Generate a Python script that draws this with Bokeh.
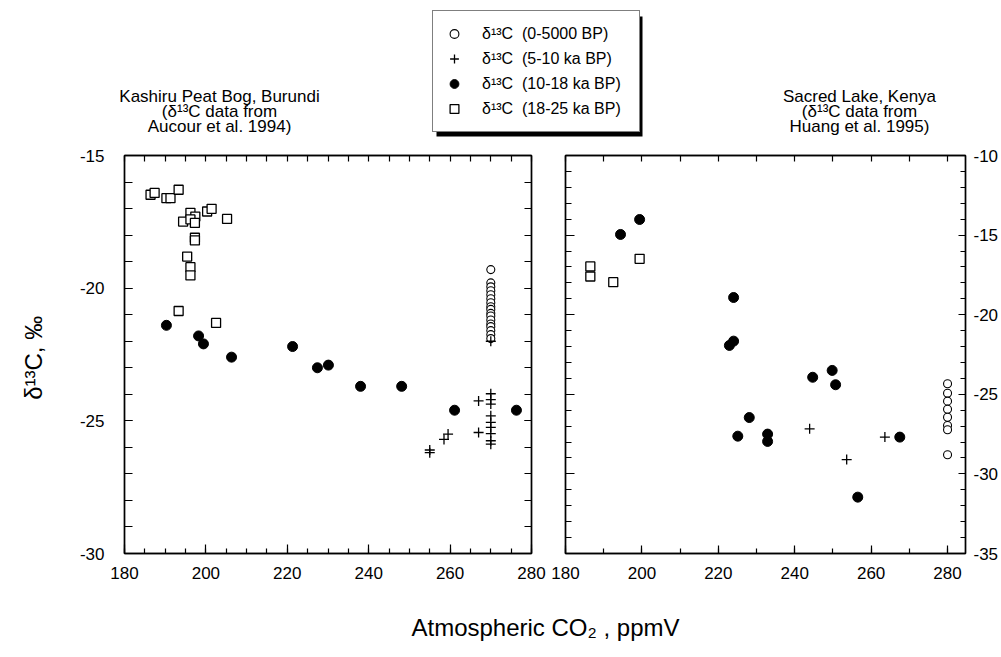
from bokeh.plotting import figure
from bokeh.models import (Range1d, LinearAxis, SingleIntervalTicker, Legend, LegendItem,
                          PrintfTickFormatter)
from bokeh.layouts import column, row
from bokeh.embed import file_html
from bokeh.resources import INLINE
from bokeh.core.properties import value

FONT = "Liberation Sans"
NAN = float("nan")

# ---------------- data: Kashiru Peat Bog, Burundi ----------------
kas_recent_x = [270] * 17
kas_recent_y = [-19.3, -19.8, -19.95, -20.1, -20.25, -20.4, -20.55, -20.7, -20.8,
                -20.95, -21.05, -21.2, -21.35, -21.45, -21.6, -21.75, -21.9]

kas_5_10_x = [270, 270, 270, 270, 270, 270, 270, 270, 270, 270,
              267, 267, 259.5, 258.5, 255, 255]
kas_5_10_y = [-22.0, -23.98, -24.2, -24.37, -24.81, -25.06, -25.25, -25.48, -25.75, -25.88,
              -24.25, -25.44, -25.5, -25.7, -26.1, -26.2]

kas_10_18_x = [190.3, 198.2, 199.4, 206.3, 221.3, 227.4, 230.1, 238.0, 248.1, 261.1, 276.3]
kas_10_18_y = [-21.4, -21.8, -22.1, -22.6, -22.2, -23.0, -22.9, -23.7, -23.7, -24.6, -24.6]

kas_18_25_x = [186.4, 187.4, 190.3, 191.3, 193.3, 196.2, 197.4, 194.4, 196.2, 197.3,
               200.3, 201.4, 205.2, 197.3, 197.3, 195.4, 196.2, 196.2, 193.3, 202.5]
kas_18_25_y = [-16.48, -16.41, -16.61, -16.61, -16.29, -17.16, -17.30, -17.49, -17.41, -17.54,
               -17.11, -17.01, -17.39, -18.10, -18.20, -18.81, -19.21, -19.52, -20.86, -21.31]

# ---------------- data: Sacred Lake, Kenya ----------------
sac_recent_x = [280] * 8
sac_recent_y = [-24.34, -24.93, -25.43, -25.94, -26.44, -26.96, -27.23, -28.80]

sac_5_10_x = [243.9, 263.6, 253.6]
sac_5_10_y = [-27.17, -27.69, -29.1]

sac_10_18_x = [194.4, 199.4, 224.0, 224.0, 222.9, 244.7, 249.8, 250.7,
               228.1, 225.1, 232.9, 232.9, 267.5, 256.5]
sac_10_18_y = [-14.96, -14.02, -18.92, -21.66, -21.93, -23.93, -23.5, -24.4,
               -26.46, -27.63, -27.5, -27.96, -27.69, -31.46]

sac_18_25_x = [186.5, 186.5, 192.5, 199.4]
sac_18_25_y = [-16.97, -17.6, -17.96, -16.49]

legend_labels = ["δ¹³C  (0-5000 BP)", "δ¹³C  (5-10 ka BP)",
                 "δ¹³C  (10-18 ka BP)", "δ¹³C  (18-25 ka BP)"]
left_title = ["Kashiru Peat Bog, Burundi", "(δ¹³C data from", "Aucour et al. 1994)"]
right_title = ["Sacred Lake, Kenya", "(δ¹³C data from", "Huang et al. 1995)"]
x_title = "Atmospheric CO₂ , ppmV"
y_title = "δ¹³C,  ‰"

# ---------------- styles ----------------
def add_axis(p, place, interval, nminor, tin, minin, labels=False, standoff=8):
    ax = LinearAxis(ticker=SingleIntervalTicker(interval=interval, num_minor_ticks=nminor))
    ax.axis_line_color = "black"
    ax.axis_line_width = 1.4
    ax.major_tick_in = tin
    ax.major_tick_out = 0
    ax.minor_tick_in = minin
    ax.minor_tick_out = 0
    ax.major_tick_line_width = 1.2
    ax.minor_tick_line_width = 1.2
    ax.major_tick_line_color = "black"
    ax.minor_tick_line_color = "black"
    if labels:
        ax.formatter = PrintfTickFormatter(format="%d")
        ax.major_label_text_font = FONT
        ax.major_label_text_font_size = "17px"
        ax.major_label_text_color = "black"
        ax.major_label_standoff = standoff
    else:
        ax.major_label_text_font_size = "0px"
        ax.major_label_text_color = None
        ax.major_label_standoff = 0
    p.add_layout(ax, place)
    return ax


def draw_points(p, xs):
    (rx, ry), (px_, py_), (fx, fy), (sx, sy) = xs
    p.scatter(rx, ry, marker="circle", size=8, fill_color="white", line_color="black", line_width=1.1)
    p.scatter(px_, py_, marker="cross", size=10, line_color="black", line_width=1.3)
    p.scatter(fx, fy, marker="circle", size=10, fill_color="black", line_color="black")
    p.scatter(sx, sy, marker="square", size=9, fill_color="white", line_color="black", line_width=1.3)


# ---------------- top figure: titles and legend (page pixel coordinates) ----------------
top = figure(width=1001, height=148, x_range=Range1d(0, 1001), y_range=Range1d(148, 0),
             x_axis_type=None, y_axis_type=None, toolbar_location=None, output_backend="svg",
             min_border=0)
top.outline_line_color = None
top.grid.visible = False
top.text(x=[219, 219, 219], y=[96, 111, 126], text=left_title, text_align="center",
         text_baseline="middle", text_font=value(FONT), text_font_size="17px", text_color="black")
top.text(x=[859, 859, 859], y=[96, 111, 126], text=right_title, text_align="center",
         text_baseline="middle", text_font=value(FONT), text_font_size="17px", text_color="black")
# legend drop shadow
top.quad(left=[436], right=[642], top=[16], bottom=[136], fill_color="black", line_color=None)
lr1 = top.scatter([NAN], [NAN], marker="circle", size=8, fill_color="white", line_color="black", line_width=1.1)
lr2 = top.scatter([NAN], [NAN], marker="cross", size=10, line_color="black", line_width=1.3)
lr3 = top.scatter([NAN], [NAN], marker="circle", size=10, fill_color="black", line_color="black")
lr4 = top.scatter([NAN], [NAN], marker="square", size=9, fill_color="white", line_color="black", line_width=1.3)
legend = Legend(items=[LegendItem(label=legend_labels[0], renderers=[lr1]),
                       LegendItem(label=legend_labels[1], renderers=[lr2]),
                       LegendItem(label=legend_labels[2], renderers=[lr3]),
                       LegendItem(label=legend_labels[3], renderers=[lr4])],
                location=(432, 16), orientation="vertical",
                border_line_color="black", border_line_width=1.5,
                background_fill_color="white", background_fill_alpha=1.0,
                padding=10, spacing=0, margin=0,
                glyph_width=22, glyph_height=25, label_height=25, label_width=147,
                label_standoff=17, label_text_font=FONT, label_text_font_size="16px",
                label_text_color="black")
top.add_layout(legend, "center")

# ---------------- left panel ----------------
left = figure(width=548, height=452, x_range=Range1d(180, 280), y_range=Range1d(-30, -15),
              x_axis_type=None, y_axis_type=None, toolbar_location=None, output_backend="svg",
              min_border_left=124, min_border_right=17, min_border_top=7, min_border_bottom=47)
left.outline_line_color = "black"
left.outline_line_width = 1.4
add_axis(left, "below", 20, 4, 9, 5, labels=True, standoff=13)
ax_ll = add_axis(left, "left", 5, 5, 8, 8, labels=True, standoff=20)
ax_ll.axis_label = y_title
ax_ll.axis_label_text_font = FONT
ax_ll.axis_label_text_font_size = "24px"
ax_ll.axis_label_text_font_style = "normal"
ax_ll.axis_label_text_color = "black"
ax_ll.axis_label_standoff = 30
add_axis(left, "above", 5, 0, 6, 0)
add_axis(left, "right", 5, 5, 7, 7)
draw_points(left, [(kas_recent_x, kas_recent_y), (kas_5_10_x, kas_5_10_y),
                   (kas_10_18_x, kas_10_18_y), (kas_18_25_x, kas_18_25_y)])

# ---------------- right panel ----------------
right = figure(width=453, height=452, x_range=Range1d(180, 284.7), y_range=Range1d(-35, -10),
               x_axis_type=None, y_axis_type=None, toolbar_location=None, output_backend="svg",
               min_border_left=17, min_border_right=36, min_border_top=7, min_border_bottom=47)
right.outline_line_color = "black"
right.outline_line_width = 1.4
add_axis(right, "below", 20, 2, 8, 5, labels=True, standoff=13)
add_axis(right, "right", 5, 5, 7, 5, labels=True, standoff=8)
add_axis(right, "above", 10, 0, 6, 0)
add_axis(right, "left", 5, 5, 9, 6)
draw_points(right, [(sac_recent_x, sac_recent_y), (sac_5_10_x, sac_5_10_y),
                    (sac_10_18_x, sac_10_18_y), (sac_18_25_x, sac_18_25_y)])

# ---------------- bottom figure: x title ----------------
bottom = figure(width=1001, height=48, x_range=Range1d(0, 1001), y_range=Range1d(648, 600),
                x_axis_type=None, y_axis_type=None, toolbar_location=None, output_backend="svg",
                min_border=0)
bottom.outline_line_color = None
bottom.grid.visible = False
bottom.text(x=[545], y=[627], text=[x_title], text_align="center", text_baseline="middle",
            text_font=value(FONT), text_font_size="24px", text_color="black")

layout = column(top, row(left, right), bottom)
open("out.html", "w").write(file_html(layout, INLINE))
